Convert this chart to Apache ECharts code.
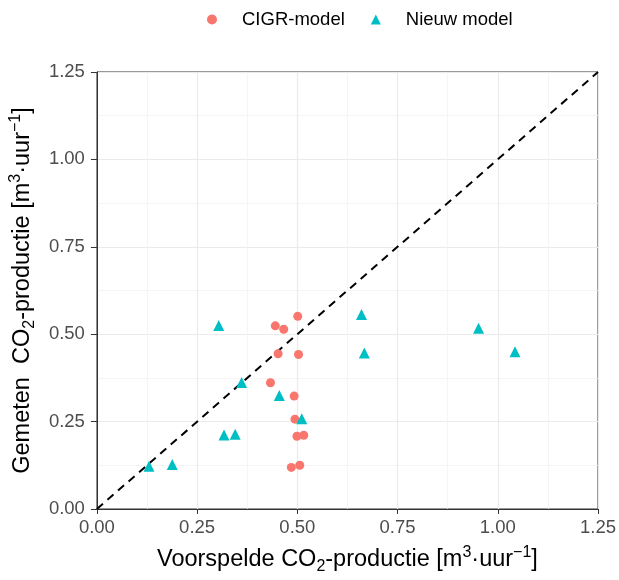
<!DOCTYPE html>
<html><head><meta charset="utf-8">
<script src="https://cdn.jsdelivr.net/npm/echarts@6/dist/echarts.min.js"></script>
<style>html,body{margin:0;padding:0;background:#fff}#c{width:619px;height:580px}</style>
</head><body><div id="c"></div>
<script>
const cigrX = [0.501,0.445,0.466,0.452,0.503,0.433,0.492,0.494,0.499,0.516,0.485,0.506];
const cigrY = [0.551,0.524,0.514,0.444,0.442,0.361,0.323,0.257,0.208,0.211,0.119,0.125];
const nieuwX = [0.304,0.361,0.455,0.511,0.317,0.345,0.130,0.188,0.660,0.667,0.952,1.043];
const nieuwY = [0.525,0.362,0.325,0.258,0.212,0.214,0.122,0.127,0.556,0.446,0.517,0.450];
const lineX = [0, 1.25];
const lineY = [0, 1.25];
const tickLabels = ['0.00','0.25','0.50','0.75','1.00','1.25'];

const F = 'Liberation Sans, Arial, sans-serif';
const zip = (a,b)=>a.map((v,i)=>[v,b[i]]);
const nameRich = {
  n:{fontSize:23.5,color:'#000',fontFamily:F,lineHeight:30},
  sub:{fontSize:16,color:'#000',fontFamily:F,lineHeight:16,verticalAlign:'bottom'},
  sup:{fontSize:16,color:'#000',fontFamily:F,lineHeight:19,verticalAlign:'top'}
};
function axis(name, nameGap, rot, labelMargin, tickLen){
  return {
    type:'value', min:0, max:1.25, interval:0.25,
    name:name, nameLocation:'middle', nameGap:nameGap, nameRotate:rot,
    nameTextStyle:{rich:nameRich},
    axisLine:{show:true,onZero:false,lineStyle:{color:'#333',width:1}},
    axisTick:{show:true,length:tickLen,lineStyle:{color:'#333',width:1}},
    axisLabel:{color:'#4D4D4D',fontSize:18.5,fontFamily:F,margin:labelMargin,
      formatter:(v)=>tickLabels[Math.round(v/0.25)]},
    splitLine:{show:true,lineStyle:{color:'#EBEBEB',width:1.2}},
    minorTick:{show:false,splitNumber:2},
    minorSplitLine:{show:true,lineStyle:{color:'#F3F3F3',width:0.8}}
  };
}
const chart = echarts.init(document.getElementById('c'), null, {renderer:'canvas'});
chart.setOption({
  animation:false,
  backgroundColor:'#fff',
  grid:{left:96,right:17,top:72,bottom:66,show:true,borderColor:'#333',borderWidth:1,backgroundColor:'transparent'},
  legend:{
    top:5, left:202, itemGap:26, itemWidth:10, itemHeight:10,
    textStyle:{fontSize:18.5,fontFamily:F,color:'#000',padding:[0,0,0,20]},
    data:[{name:'CIGR-model',icon:'circle'},{name:'Nieuw model',icon:'triangle'}]
  },
  xAxis: axis('{n|Voorspelde CO}{sub|2}{n|-productie [m}{sup|3}{n|·uur}{sup|−1}{n|]}', 36, 0, 9, 5),
  yAxis: axis('{n|Gemeten  CO}{sub|2}{n|-productie [m}{sup|3}{n|·uur}{sup|−1}{n|]}', 54, 90, 12, 6),
  series:[
    {type:'line', data:zip(lineX,lineY), symbol:'none', silent:true,
     lineStyle:{color:'#000',width:2,type:[8,6]}, z:1},
    {name:'CIGR-model', type:'scatter', symbol:'circle', symbolSize:9,
     itemStyle:{color:'#F8766D',opacity:1}, data:zip(cigrX,cigrY), z:3},
    {name:'Nieuw model', type:'scatter', symbol:'triangle', symbolSize:11,
     itemStyle:{color:'#00BFC4',opacity:1}, data:zip(nieuwX,nieuwY), z:3}
  ]
});
</script></body></html>
